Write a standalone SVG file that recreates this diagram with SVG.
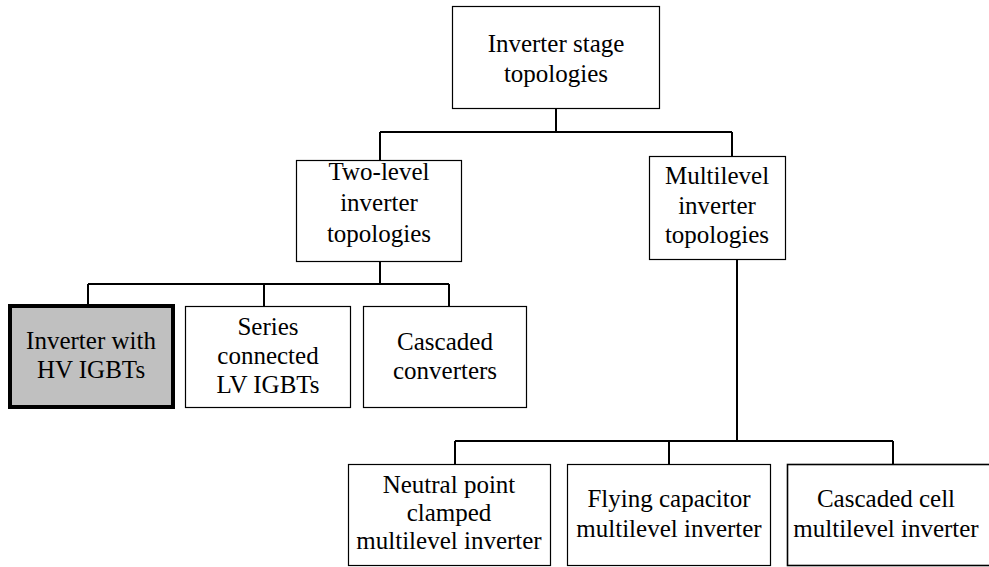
<svg xmlns="http://www.w3.org/2000/svg" width="989" height="567" viewBox="0 0 989 567">
<style>
.box{fill:#fff;stroke:#000;stroke-width:1.2}
.hl{fill:#c0c0c0;stroke:#000;stroke-width:4}
.t{font-family:"Liberation Serif","Times New Roman",serif;font-size:25px;fill:#000;text-anchor:middle}
.c{fill:none;stroke:#000;stroke-width:2}
</style>
<rect width="989" height="567" fill="#fff"/>
<g id="connectors" class="c">
<path d="M556 109V132M380 132H732M380 132V160M732 132V156"/>
<path d="M380 262V284M88 284H449M88 284V304M264 284V306M449 284V306"/>
<path d="M737 260V441M455 441H893M455 441V464M669 441V464M893 441V464"/>
</g>
<g id="n-root"><rect class="box" x="452.5" y="6.5" width="207" height="102"/>
<text class="t" x="556" y="52">Inverter stage</text><text class="t" x="556" y="82">topologies</text></g>
<g id="n-two"><rect class="box" x="296.5" y="160.5" width="165" height="101"/>
<text class="t" x="379" y="180">Two-level</text><text class="t" x="379" y="211">inverter</text><text class="t" x="379" y="242">topologies</text></g>
<g id="n-multi"><rect class="box" x="649.5" y="156.5" width="136" height="103"/>
<text class="t" x="717" y="184">Multilevel</text><text class="t" x="717" y="214">inverter</text><text class="t" x="717" y="243">topologies</text></g>
<g id="n-hv"><rect class="hl" x="10" y="306" width="163" height="101"/>
<text class="t" x="91" y="349">Inverter with</text><text class="t" x="91" y="378">HV IGBTs</text></g>
<g id="n-series"><rect class="box" x="185.5" y="306.5" width="165" height="101"/>
<text class="t" x="268" y="335">Series</text><text class="t" x="268" y="364">connected</text><text class="t" x="268" y="393">LV IGBTs</text></g>
<g id="n-casc"><rect class="box" x="363.5" y="306.5" width="163" height="101"/>
<text class="t" x="445" y="350">Cascaded</text><text class="t" x="445" y="379">converters</text></g>
<g id="n-npc"><rect class="box" x="348.5" y="464.5" width="202" height="101"/>
<text class="t" x="449" y="493">Neutral point</text><text class="t" x="449" y="521">clamped</text><text class="t" x="449" y="549">multilevel inverter</text></g>
<g id="n-fc"><rect class="box" x="567.5" y="464.5" width="203" height="101"/>
<text class="t" x="669" y="507">Flying capacitor</text><text class="t" x="669" y="537">multilevel inverter</text></g>
<g id="n-cc"><rect class="box" x="787.5" y="464.5" width="220" height="101" style="stroke-width:1.6"/>
<text class="t" x="886" y="507">Cascaded cell</text><text class="t" x="886" y="537">multilevel inverter</text></g>
</svg>
